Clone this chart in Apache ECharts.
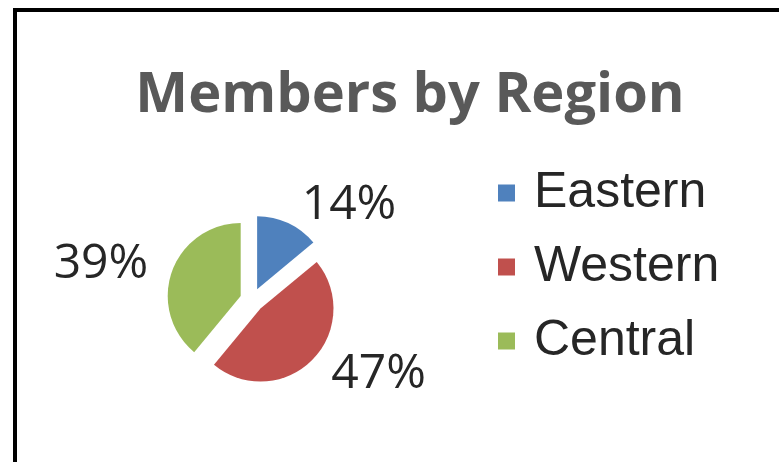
<!DOCTYPE html>
<html>
<head>
<meta charset="utf-8">
<script src="https://cdn.jsdelivr.net/npm/echarts@6/dist/echarts.min.js"></script>
<style>
  html, body { margin: 0; padding: 0; background: #fff; overflow: hidden; }
  #chart { width: 779px; height: 462px; }
  #frame { position: absolute; left: 13px; top: 8px; width: 800px; height: 500px; border-left: 4px solid #000; border-top: 4px solid #000; pointer-events: none; }
</style>
</head>
<body>
<div id="chart"></div>
<div id="frame"></div>
<script>
// data
const regions = ["Eastern", "Western", "Central"];
const members = [14, 47, 39];
const colors = ["#4F81BD", "#C0504D", "#9BBB59"];

const myChart = echarts.init(document.getElementById("chart"));

const option = {
    animation: false,
    color: colors,
    title: {
        text: "Members by Region",
        left: 405,
        top: 63,
        textAlign: "center",
        textStyle: {
            fontFamily: "Open Sans, sans-serif",
            fontWeight: "bold",
            fontSize: 56,
            color: "#595959"
        }
    },
    legend: {
        orient: "vertical",
        left: 493,
        top: 163,
        icon: "rect",
        itemWidth: 17,
        itemHeight: 17,
        itemGap: 24,
        data: regions,
        textStyle: {
            fontFamily: "Liberation Sans, Arial, sans-serif",
            fontSize: 50,
            color: "#262626",
            padding: [0, 0, 0, 14]
        }
    },
    series: [{
        type: "pie",
        center: [252, 300],
        radius: 73,
        startAngle: 90,
        clockwise: true,
        selectedMode: "multiple",
        selectedOffset: 12,
        emphasis: { disabled: true },
        label: {
            position: "outside",
            formatter: "{d}%",
            fontFamily: "Open Sans, sans-serif",
            fontSize: 48,
            color: "#262626"
        },
        labelLine: { show: false, length: 20, length2: 0 },
        data: regions.map((name, i) => ({ name: name, value: members[i], selected: true }))
    }]
};

myChart.setOption(option);
</script>
</body>
</html>
